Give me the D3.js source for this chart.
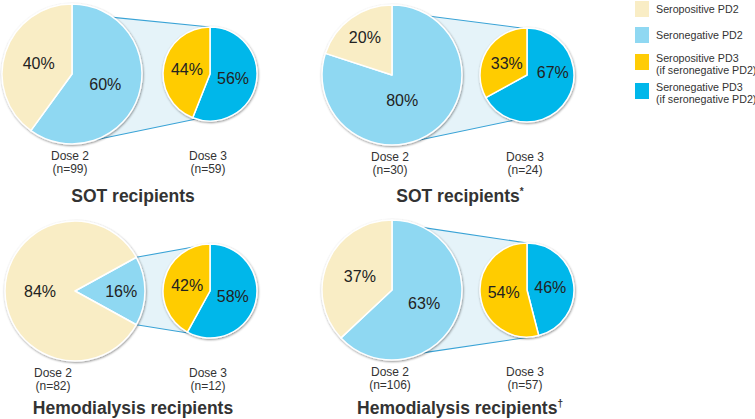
<!DOCTYPE html>
<html>
<head>
<meta charset="utf-8">
<script src="https://cdn.jsdelivr.net/npm/d3@7"></script>
<style>
  body { margin: 0; background: #fff; }
  svg { display: block; font-family: "Liberation Sans", Arial, sans-serif; }
</style>
</head>
<body>
<div class="canvas"></div>
<script>
// data
const groups = ["SOT recipients", "SOT recipients", "Hemodialysis recipients", "Hemodialysis recipients"];
const marks = ["", "*", "", "\u2020"];
const dose2N = [99, 30, 82, 106];
const dose3N = [59, 24, 12, 57];
const seroPosPD2 = [40, 20, 84, 37];
const seroNegPD2 = [60, 80, 16, 63];
const seroPosPD3 = [44, 33, 42, 54];
const seroNegPD3 = [56, 67, 58, 46];
const legendLabels = [
  ["Seropositive PD2"],
  ["Seronegative PD2"],
  ["Seropositive PD3", "(if seronegative PD2)"],
  ["Seronegative PD3", "(if seronegative PD2)"]
];

const colors = {
  posPD2: "#f9edc5",
  negPD2: "#8fd8f2",
  posPD3: "#ffcc05",
  negPD3: "#00b7ea"
};
const legendColors = [colors.posPD2, colors.negPD2, colors.posPD3, colors.negPD3];

const width = 755, height = 419;
const svg = d3.select(".canvas").append("svg").attr("width", width).attr("height", height);

// soft shadow round the pies
const defs = svg.append("defs");
defs.append("filter")
  .attr("id", "shadow")
  .attr("x", "-10%").attr("y", "-10%").attr("width", "125%").attr("height", "125%")
  .append("feDropShadow")
  .attr("dx", 0.6).attr("dy", 1).attr("stdDeviation", 1.2)
  .attr("flood-color", "#000").attr("flood-opacity", 0.45);

// layout of each panel (angles in degrees, clockwise from 12 o'clock)
const bigR = 70, smallR = 47;
const layout = [
  { bx: 72, sx: 210, cy: 74, titleX: 133, titleY: 202, dose2X: 70,
    bigAnchors: [36, 160], smallAnchors: [0, 197], centred: false, labelFix: {} },
  { bx: 392, sx: 527, cy: 75, titleX: 460, titleY: 202, dose2X: 390,
    bigAnchors: [33, 160], smallAnchors: [355, 196], centred: false,
    labelFix: { negPD2: [158, 0.39], negPD3: [85, 0.55] } },
  { bx: 75, sx: 210, cy: 291, titleX: 133, titleY: 414, dose2X: 53,
    bigAnchors: null, smallAnchors: [0, 206], centred: true, labelFix: {} },
  { bx: 392, sx: 527, cy: 290, titleX: 460, titleY: 414, dose2X: 390,
    bigAnchors: [27, 154], smallAnchors: [0, 174], centred: false, labelFix: {} }
];

const toRad = (a) => (a * Math.PI) / 180;
const onCircle = (cx, cy, r, a) => [cx + r * Math.sin(a), cy - r * Math.cos(a)];

groups.forEach((name, i) => {
  const L = layout[i];
  const g = svg.append("g");

  const bigData = [
    { key: "negPD2", v: seroNegPD2[i] },
    { key: "posPD2", v: seroPosPD2[i] }
  ];
  const smallData = [
    { key: "negPD3", v: seroNegPD3[i] },
    { key: "posPD3", v: seroPosPD3[i] }
  ];

  // hemodialysis left panel: seronegative wedge faces the small pie
  const negSpan = (2 * Math.PI * seroNegPD2[i]) / (seroNegPD2[i] + seroPosPD2[i]);
  const bigStart = L.centred ? Math.PI / 2 - negSpan / 2 : 0;

  const bigPie = d3.pie().sort(null).value((d) => d.v)
    .startAngle(bigStart).endAngle(bigStart + 2 * Math.PI);
  const smallPie = d3.pie().sort(null).value((d) => d.v);

  const bigArcs = bigPie(bigData);
  const smallArcs = smallPie(smallData);

  // connector between the pies
  const a1 = L.bigAnchors ? toRad(L.bigAnchors[0]) : bigArcs[0].startAngle;
  const a2 = L.bigAnchors ? toRad(L.bigAnchors[1]) : bigArcs[0].endAngle;
  const p1 = onCircle(L.bx, L.cy, bigR, a1);
  const p2 = onCircle(L.sx, L.cy, smallR, toRad(L.smallAnchors[0]));
  const p3 = onCircle(L.sx, L.cy, smallR, toRad(L.smallAnchors[1]));
  const p4 = onCircle(L.bx, L.cy, bigR, a2);

  g.append("path")
    .attr("d", d3.line()([p1, p2, [L.sx, L.cy], p3, p4, [L.bx, L.cy]]) + "Z")
    .attr("fill", "#e5f3f9");
  g.append("line")
    .attr("x1", p1[0]).attr("y1", p1[1]).attr("x2", p2[0]).attr("y2", p2[1])
    .attr("stroke", "#3aa3d6").attr("stroke-width", 1.1);
  g.append("line")
    .attr("x1", p4[0]).attr("y1", p4[1]).attr("x2", p3[0]).attr("y2", p3[1])
    .attr("stroke", "#3aa3d6").attr("stroke-width", 1.1);

  const drawPie = (arcs, cx, r) => {
    const arc = d3.arc().innerRadius(0).outerRadius(r);
    const pg = g.append("g")
      .attr("transform", `translate(${cx},${L.cy})`)
      .attr("filter", "url(#shadow)");
    pg.selectAll("path")
      .data(arcs)
      .enter()
      .append("path")
      .attr("d", arc)
      .attr("fill", (d) => colors[d.data.key])
      .attr("stroke", "#fff")
      .attr("stroke-width", 1.5)
      .attr("stroke-linejoin", "round");

    g.append("g")
      .attr("transform", `translate(${cx},${L.cy})`)
      .selectAll("text")
      .data(arcs)
      .enter()
      .append("text")
      .attr("transform", (d) => {
        const fix = L.labelFix[d.data.key];
        if (fix) {
          const c = onCircle(0, 0, fix[1] * r, toRad(fix[0]));
          return `translate(${c[0]},${c[1]})`;
        }
        const k = d.data.v < 25 ? 0.66 : 0.5;
        const c = d3.arc().innerRadius(k * r).outerRadius(k * r).centroid(d);
        return `translate(${c[0]},${c[1]})`;
      })
      .attr("text-anchor", "middle")
      .attr("dominant-baseline", "central")
      .attr("font-size", 16)
      .attr("fill", "#222")
      .text((d) => d.data.v + "%");
  };

  drawPie(bigArcs, L.bx, bigR);
  drawPie(smallArcs, L.sx, smallR);

  // dose captions
  const captions = [
    { x: L.dose2X, t: ["Dose 2", `(n=${dose2N[i]})`] },
    { x: L.sx - 2, t: ["Dose 3", `(n=${dose3N[i]})`] }
  ];
  captions.forEach((c) => {
    c.t.forEach((line, j) => {
      g.append("text")
        .attr("x", c.x)
        .attr("y", L.cy + 86 + j * 13)
        .attr("text-anchor", "middle")
        .attr("font-size", 12)
        .attr("fill", "#333")
        .text(line);
    });
  });

  // panel title
  const title = g.append("text")
    .attr("x", L.titleX)
    .attr("y", L.titleY)
    .attr("text-anchor", "middle")
    .attr("font-size", 17.5)
    .attr("font-weight", "bold")
    .attr("fill", "#333");
  title.append("tspan").text(name);
  if (marks[i]) {
    title.append("tspan")
      .attr("font-size", 10)
      .attr("dy", -7)
      .text(marks[i]);
  }
});

// legend
const legend = svg.append("g").attr("transform", "translate(635,0)");
const legendTops = [1, 27, 54, 83];
legendLabels.forEach((lines, i) => {
  legend.append("rect")
    .attr("x", 0)
    .attr("y", legendTops[i])
    .attr("width", 14)
    .attr("height", 16)
    .attr("fill", legendColors[i]);
  lines.forEach((line, j) => {
    legend.append("text")
      .attr("x", 21)
      .attr("y", legendTops[i] + (lines.length === 1 ? 12 : 8 + j * 12))
      .attr("font-size", 10.7)
      .attr("fill", "#333")
      .text(line);
  });
});
</script>
</body>
</html>
